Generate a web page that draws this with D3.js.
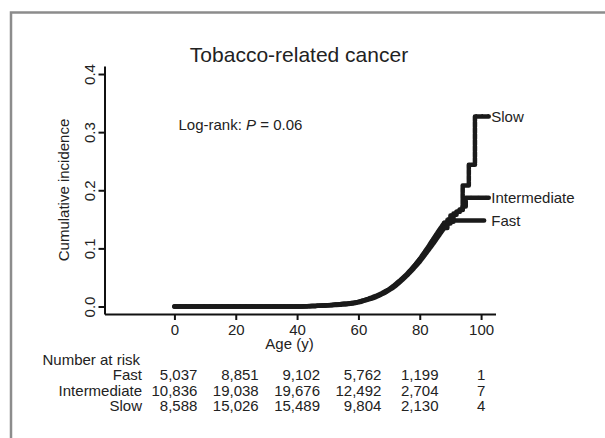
<!DOCTYPE html>
<html>
<head>
<meta charset="utf-8">
<script src="https://cdn.jsdelivr.net/npm/d3@7"></script>
<style>
  body { margin: 0; background: #fff; }
  text { font-family: "Liberation Sans", Arial, sans-serif; fill: #222; }
</style>
</head>
<body>
<div id="chart"></div>
<script>
let width = 605, height = 438;

// cumulative incidence curves (age in years); steps after tailStart
const fastAge = [0, 40, 46, 50, 54, 58, 60, 62, 64, 66, 68, 70, 72, 74, 76, 78, 80, 82, 84, 86, 88, 89, 90, 91, 101];
const fastInc = [0, 0, 0.001, 0.002, 0.004, 0.006, 0.008, 0.011, 0.014, 0.018, 0.023, 0.029, 0.037, 0.046, 0.056, 0.068, 0.081, 0.095, 0.111, 0.127, 0.141, 0.144, 0.146, 0.148, 0.148];

const intAge = [0, 40, 46, 50, 54, 58, 60, 62, 64, 66, 68, 70, 72, 74, 76, 78, 80, 82, 84, 86, 88, 89, 90, 91, 92, 93, 94, 95, 102.5];
const intInc = [0, 0, 0.001, 0.002, 0.004, 0.006, 0.008, 0.011, 0.015, 0.019, 0.024, 0.030, 0.038, 0.047, 0.057, 0.069, 0.082, 0.097, 0.113, 0.129, 0.144, 0.150, 0.157, 0.160, 0.163, 0.166, 0.172, 0.187, 0.187];

const slowAge = [0, 40, 46, 50, 54, 58, 60, 62, 64, 66, 68, 70, 72, 74, 76, 78, 80, 82, 84, 86, 88, 89, 90, 91, 92, 93, 94, 96, 98, 102.5];
const slowInc = [0, 0, 0.001, 0.002, 0.003, 0.005, 0.007, 0.010, 0.013, 0.017, 0.022, 0.028, 0.035, 0.044, 0.054, 0.065, 0.077, 0.091, 0.105, 0.120, 0.135, 0.143, 0.150, 0.158, 0.163, 0.167, 0.208, 0.244, 0.327, 0.327];

const tailStart = 88;

const groups = ["Fast", "Intermediate", "Slow"];
const xTicks = [0, 20, 40, 60, 80, 100];
const yTicks = [0, 0.1, 0.2, 0.3, 0.4];

// number at risk at each x tick
const riskFast = [5037, 8851, 9102, 5762, 1199, 1];
const riskInt = [10836, 19038, 19676, 12492, 2704, 7];
const riskSlow = [8588, 15026, 15489, 9804, 2130, 4];

let series = [
  {name: "Fast", age: fastAge, inc: fastInc, dash: null},
  {name: "Intermediate", age: intAge, inc: intInc, dash: "6,1.5"},
  {name: "Slow", age: slowAge, inc: slowInc, dash: "5,1"}
];

let svg = d3.select("#chart")
    .append("svg")
    .attr("width", width)
    .attr("height", height);

// grey frame (runs off the right and bottom)
svg.append("rect")
    .attr("x", 11).attr("y", 12.5)
    .attr("width", 640).attr("height", 480)
    .attr("fill", "none")
    .attr("stroke", "#8c8c8c")
    .attr("stroke-width", 2.5);

let x = d3.scaleLinear().domain([-22.8, 104.7]).range([104.5, 495.5]);
let y = d3.scaleLinear().domain([-0.0129, 0.4138]).range([314, 66]);

// axes
let xAxis = svg.append("g")
    .attr("transform", "translate(0,314)")
    .call(d3.axisBottom(x).tickValues(xTicks).tickSize(6).tickSizeOuter(0).tickFormat(d3.format("d")));
let yAxis = svg.append("g")
    .attr("transform", "translate(104.5,0)")
    .call(d3.axisLeft(y).tickValues(yTicks).tickSize(6).tickSizeOuter(0).tickFormat(d3.format(".1f")));

[xAxis, yAxis].forEach(function (g) {
    g.select(".domain").attr("stroke", "#111").attr("stroke-width", 2);
    g.selectAll(".tick line").attr("stroke", "#111").attr("stroke-width", 2);
    g.selectAll(".tick text").attr("font-size", 15).attr("fill", "#222");
});
xAxis.selectAll(".tick text").attr("y", 0).attr("dy", 0)
    .attr("transform", "translate(0,21)");
yAxis.selectAll(".tick text")
    .attr("x", 0).attr("dy", 0)
    .attr("text-anchor", "middle")
    .attr("transform", "translate(-10,0) rotate(-90)");

// curves: smooth body, step tail
let body = d3.line()
    .x(function (d) { return x(d[0]); })
    .y(function (d) { return y(d[1]); })
    .curve(d3.curveMonotoneX);
let tail = d3.line()
    .x(function (d) { return x(d[0]); })
    .y(function (d) { return y(d[1]); })
    .curve(d3.curveStepAfter);

function pts(s) { return s.age.map(function (a, i) { return [a, s.inc[i]]; }); }

let curves = svg.selectAll(".curve")
    .data(series)
    .enter()
    .append("g")
    .attr("class", "curve")
    .attr("fill", "none")
    .attr("stroke", "#1a1a1a")
    .attr("stroke-width", 4.5)
    .attr("stroke-linecap", "round")
    .attr("stroke-linejoin", "round")
    .attr("stroke-dasharray", function (s) { return s.dash; });

curves.append("path")
    .attr("d", function (s) { return body(pts(s).filter(function (p) { return p[0] <= tailStart; })); });
curves.append("path")
    .attr("d", function (s) { return tail(pts(s).filter(function (p) { return p[0] >= tailStart; })); });

// curve labels
svg.selectAll(".lab")
    .data(series)
    .enter()
    .append("text")
    .attr("x", x(102.5) + 2.5)
    .attr("y", function (s) { return y(s.inc[s.inc.length - 1]) + 5.4; })
    .attr("font-size", 15)
    .text(function (s) { return s.name; });

// titles
svg.append("text")
    .attr("x", 299).attr("y", 61.5)
    .attr("text-anchor", "middle")
    .attr("font-size", 21)
    .text("Tobacco-related cancer");

svg.append("text")
    .attr("transform", "translate(68.5,190) rotate(-90)")
    .attr("text-anchor", "middle")
    .attr("font-size", 15)
    .text("Cumulative incidence");

svg.append("text")
    .attr("x", 289.5).attr("y", 349)
    .attr("text-anchor", "middle")
    .attr("font-size", 15)
    .text("Age (y)");

let lr = svg.append("text")
    .attr("x", 178.5).attr("y", 130)
    .attr("font-size", 15);
lr.append("tspan").text("Log-rank: ");
lr.append("tspan").attr("font-style", "italic").text("P");
lr.append("tspan").text(" = 0.06");

// number at risk table
svg.append("text")
    .attr("x", 42.5).attr("y", 364.5)
    .attr("font-size", 15)
    .text("Number at risk");

let fmt = d3.format(",");
let rows = [riskFast, riskInt, riskSlow];
let rowY = [380, 395.6, 411.4];

rows.forEach(function (r, i) {
    svg.append("text")
        .attr("x", 142).attr("y", rowY[i])
        .attr("text-anchor", "end")
        .attr("font-size", 15)
        .text(groups[i]);
});

// columns: values right-justified to the widest entry, centred on the tick
xTicks.forEach(function (t, j) {
    let col = svg.append("g");
    let cells = col.selectAll("text")
        .data(rows.map(function (r) { return r[j]; }))
        .enter()
        .append("text")
        .attr("y", function (d, i) { return rowY[i]; })
        .attr("font-size", 15)
        .attr("text-anchor", "end")
        .text(function (d) { return fmt(d); });
    let w = d3.max(cells.nodes(), function (n) { return n.getComputedTextLength(); });
    cells.attr("x", x(t) + w / 2);
});
</script>
</body>
</html>
